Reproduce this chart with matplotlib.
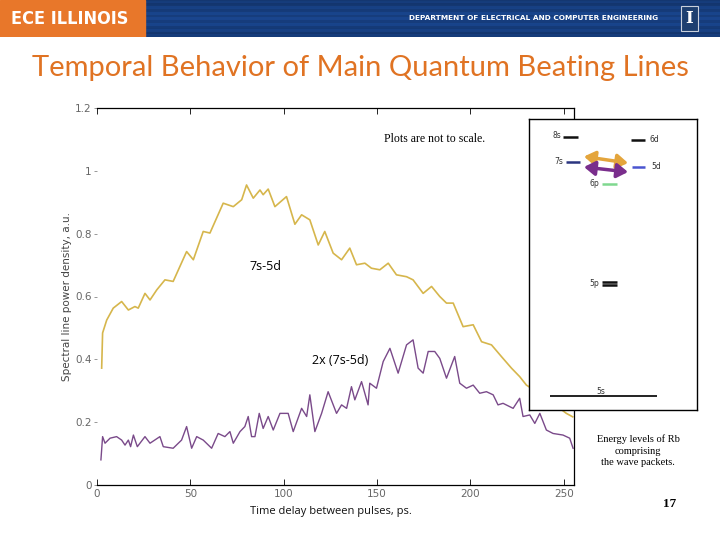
import numpy as np
import matplotlib
matplotlib.use("Agg")
import matplotlib.pyplot as plt
from matplotlib.patches import Rectangle, FancyArrowPatch

# ---------------- data ----------------
yellow_x = [2.5, 3, 5.2, 8.7, 13.2, 16.8, 20.3, 22.1, 25.7, 28.4, 32, 36.4, 40.8, 48, 51.6,
            56.9, 60.5, 67.6, 73, 77.5, 80.1, 83.7, 87.3, 89, 91.7, 95.3, 101.5, 106, 109.6,
            114, 118.5, 122, 126.5, 131, 135.4, 139, 143.5, 147, 151.5, 156, 160.4, 165.8,
            169.3, 174.7, 179.2, 183.6, 187.2, 190.8, 196.1, 201.5, 206, 211.3, 216.6, 222,
            226.4, 230, 240, 251.4, 254.8]
yellow_y = [0.372, 0.484, 0.525, 0.563, 0.584, 0.557, 0.568, 0.563, 0.610, 0.589, 0.621, 0.653,
            0.648, 0.743, 0.717, 0.807, 0.802, 0.897, 0.886, 0.908, 0.955, 0.913, 0.939, 0.924,
            0.942, 0.886, 0.918, 0.830, 0.860, 0.844, 0.764, 0.807, 0.738, 0.717, 0.754, 0.701,
            0.706, 0.690, 0.685, 0.706, 0.669, 0.663, 0.653, 0.610, 0.632, 0.600, 0.579, 0.579,
            0.504, 0.510, 0.456, 0.446, 0.409, 0.372, 0.345, 0.318, 0.280, 0.228, 0.217]

purple_x = [2.1, 3, 4.3, 7, 10.5, 13.2, 15, 16.8, 18, 19.5, 21.6, 25.7, 28.4, 33.7, 35.5, 40.8,
            45.3, 48, 50.7, 53.4, 56.9, 61.4, 64.9, 68.5, 71.2, 73, 76.6, 79.2, 81, 82.8, 84.6,
            86.9, 89, 91.7, 94.4, 98, 102.4, 105.1, 109.6, 112.3, 114, 116.7, 120.3, 123.8,
            128.3, 131, 133.7, 136.3, 138.1, 141.7, 145.2, 146.1, 149.7, 153.3, 156.9, 161.3,
            165.8, 169.3, 172, 174.7, 177.4, 180.9, 183.6, 187.2, 191.6, 194.3, 197.9, 201.5,
            205, 208.6, 212.2, 214.8, 217.5, 222.9, 226.4, 228.2, 231.8, 234.5, 237.2, 240.7,
            244.3, 249.6, 253.2, 255]
purple_y = [0.080, 0.154, 0.133, 0.149, 0.154, 0.143, 0.127, 0.143, 0.122, 0.159, 0.122, 0.154,
            0.133, 0.154, 0.122, 0.117, 0.143, 0.186, 0.117, 0.154, 0.143, 0.117, 0.164, 0.154,
            0.170, 0.133, 0.170, 0.186, 0.218, 0.154, 0.154, 0.228, 0.180, 0.218, 0.175, 0.228,
            0.228, 0.170, 0.244, 0.218, 0.287, 0.170, 0.228, 0.297, 0.228, 0.255, 0.244, 0.313,
            0.271, 0.329, 0.255, 0.324, 0.308, 0.393, 0.435, 0.356, 0.446, 0.462, 0.372, 0.356,
            0.425, 0.425, 0.403, 0.340, 0.409, 0.324, 0.308, 0.318, 0.292, 0.297, 0.287, 0.255,
            0.260, 0.244, 0.276, 0.218, 0.223, 0.196, 0.228, 0.175, 0.164, 0.159, 0.149, 0.117]

x_ticks = [0, 50, 100, 150, 200, 250]
y_ticks = [0, 0.2, 0.4, 0.6, 0.8, 1.0, 1.2]
y_tick_labels = ["0", "0.2", "0.4", "0.6", "0.8", "1", "1.2"]

# energy levels: name, x0, x1, y (inset pixel coords), color
level_names = ["8s", "6d", "7s", "5d", "6p", "5p", "5p", "5s"]
level_x0 = [563, 631, 566, 632, 602, 602, 602, 550]
level_x1 = [578, 645, 580, 645, 617, 617, 617, 657]
level_y = [136.5, 139.5, 161.5, 166.5, 184, 281.7, 284.5, 395.5]
level_colors = ["#111111", "#111111", "#2B3580", "#4A55D0", "#7FD88F", "#111111", "#111111", "#222222"]

W, H = 720, 540
fig = plt.figure(figsize=(7.2, 5.4), dpi=100)
fig.patch.set_facecolor("white")

def fx(px):
    return px / W

def fy(py):
    return 1 - py / H

# ---------------- header ----------------
hdr = fig.add_axes([0, fy(37), 1, 37 / H])
hdr.set_xlim(0, W)
hdr.set_ylim(37, 0)
hdr.axis("off")
rows = np.linspace(0, 1, 37)
shade = 0.55 + 0.25 * np.sin(rows * np.pi) + 0.10 * np.sign(np.sin(rows * 40))
cols = np.zeros((37, 1, 3))
base = np.array([0.08, 0.22, 0.45])
for i, s in enumerate(shade):
    cols[i, 0] = np.clip(base * (0.6 + 0.7 * s), 0, 1)
hdr.imshow(cols, extent=[145, W, 37, 0], aspect="auto", interpolation="bilinear")
hdr.add_patch(Rectangle((0, 0), 145, 37, color="#E8772A"))
hdr.text(70, 19, "ECE ILLINOIS", color="white", fontsize=13, fontweight="bold",
         family="DejaVu Sans", fontstretch="condensed", ha="center", va="center")
hdr.text(534, 18, "DEPARTMENT OF ELECTRICAL AND COMPUTER ENGINEERING", color="white",
         fontsize=5.3, fontweight="bold", ha="center", va="center")
hdr.add_patch(Rectangle((681, 6), 17, 25, facecolor="#1D3F70", edgecolor="#C8D0DC", lw=0.8))
hdr.text(689.5, 18.5, "I", color="white", fontsize=12, fontweight="bold", family="DejaVu Serif",
         ha="center", va="center")

# ---------------- title ----------------
fig.text(fx(360), fy(68), "Temporal Behavior of Main Quantum Beating Lines", color="#E07323",
         fontsize=21, family="Lato", ha="center", va="center")

# ---------------- main axes ----------------
ax = fig.add_axes([fx(97), fy(485), (574 - 97) / W, (485 - 108) / H])
ax.plot(yellow_x, yellow_y, color="#D6B64C", lw=1.2)
ax.plot(purple_x, purple_y, color="#7A4A8A", lw=1.0)
ax.set_xlim(0, 255.5)
ax.set_ylim(0, 1.2)
ax.set_xticks(x_ticks)
ax.set_yticks(y_ticks)
ax.set_yticklabels(y_tick_labels)
ax.spines["left"].set_visible(False)
for s in ["top", "right", "bottom"]:
    ax.spines[s].set_linewidth(0.9)
ax.tick_params(axis="x", direction="in", top=True, length=4, width=0.6, labelsize=7.5,
               labelcolor="#666666", pad=3)
ax.tick_params(axis="y", direction="out", length=2, width=0.6, color="#888888",
               labelsize=7.5, labelcolor="#666666", pad=2)
ax.set_ylabel("Spectral line power density, a.u.", fontsize=7.5, color="#444444", labelpad=2)
ax.set_xlabel("Time delay between pulses, ps.", fontsize=8, color="#111111", labelpad=6,
              family="Open Sans")
ax.xaxis.set_label_coords(0.49, -0.055)

fig.text(fx(265), fy(266), "7s-5d", fontsize=9, family="Open Sans", ha="center", va="center")
fig.text(fx(340), fy(361), "2x (7s-5d)", fontsize=9, family="Open Sans", ha="center", va="center")
fig.text(fx(435), fy(139), "Plots are not to scale.", fontsize=8.5, family="Liberation Serif",
         ha="center", va="center")

# ---------------- inset: energy levels ----------------
ins = fig.add_axes([fx(529), fy(410), (697 - 529) / W, (410 - 119) / H])
ins.set_xlim(529, 697)
ins.set_ylim(410, 119)
ins.set_xticks([])
ins.set_yticks([])
ins.set_facecolor("white")
for s in ins.spines.values():
    s.set_linewidth(1.0)
for name, x0, x1, yy, c in zip(level_names, level_x0, level_x1, level_y, level_colors):
    ins.plot([x0, x1], [yy, yy], color=c, lw=1.8 if name != "5s" else 1.4,
             solid_capstyle="butt")
lab_kw = dict(fontsize=5.5, color="#333333", va="center")
ins.text(561, 135.7, "8s", ha="right", **lab_kw)
ins.text(649, 139.3, "6d", ha="left", **lab_kw)
ins.text(563, 161, "7s", ha="right", **lab_kw)
ins.text(651, 166.7, "5d", ha="left", **lab_kw)
ins.text(599, 183.3, "6p", ha="right", **lab_kw)
ins.text(599, 283, "5p", ha="right", **lab_kw)
ins.text(601, 391, "5s", ha="center", **lab_kw)
for (a, b), col in [(((584, 156.5), (628, 163)), "#E4A53C"), (((584, 167), (628, 172)), "#7A2E8C")]:
    ins.add_patch(FancyArrowPatch(a, b, arrowstyle="<|-|>,head_length=1.3,head_width=0.85",
                                  color=col, lw=2.5, mutation_scale=5, shrinkA=0, shrinkB=0))

fig.text(fx(638), fy(451), "Energy levels of Rb\ncomprising\nthe wave packets.", fontsize=7.5,
         family="Liberation Serif", ha="center", va="center", linespacing=1.35)
fig.text(fx(670), fy(504), "17", fontsize=9.5, fontweight="bold", family="Liberation Serif",
         ha="center", va="center")

fig.savefig("out.png", dpi=100, facecolor="white")
